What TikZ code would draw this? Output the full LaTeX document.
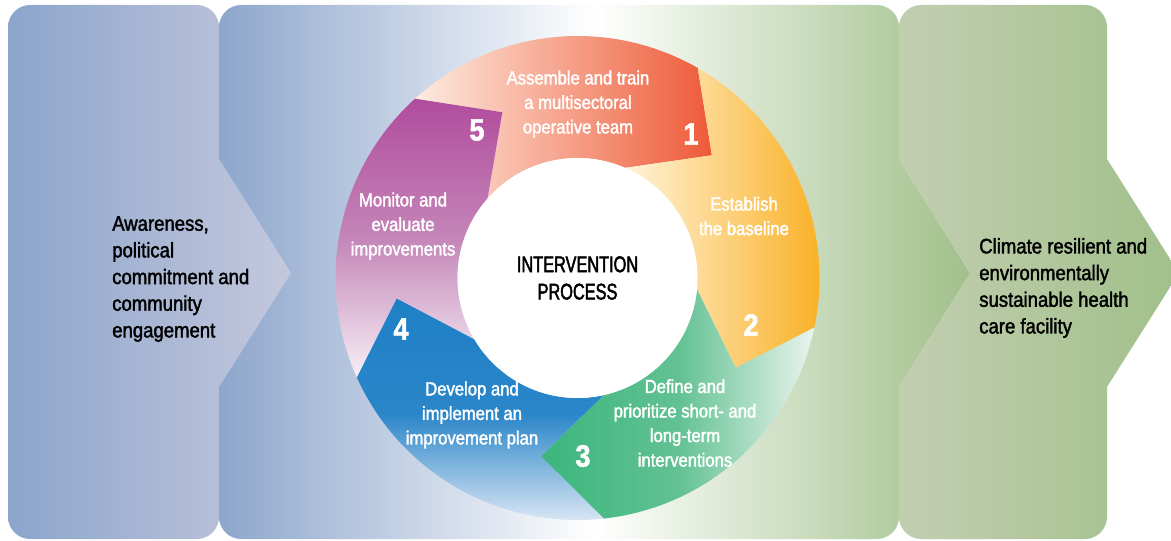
\documentclass[tikz,border=0pt]{standalone}
\usepackage{fontspec}
\setmainfont{Liberation Sans}[FakeStretch=0.88, FakeBold=1.8]
\newfontfamily\condfont{Liberation Sans}[FakeStretch=0.72, FakeBold=2]

\definecolor{leftL}{HTML}{8CA5CB}
\definecolor{leftR}{HTML}{C4C8DD}
\definecolor{midL}{HTML}{8DA6CC}
\definecolor{midR}{HTML}{A0C08A}
\definecolor{rightL}{HTML}{C3CEB1}
\definecolor{rightR}{HTML}{A0C08A}
\definecolor{assembleL}{HTML}{FEEBE0}
\definecolor{assembleR}{HTML}{EE5A38}
\definecolor{baselineL}{HTML}{FFF3DA}
\definecolor{baselineR}{HTML}{F9AC18}
\definecolor{defineL}{HTML}{3BB67C}
\definecolor{defineM}{HTML}{62C193}
\definecolor{defineR}{HTML}{EAF4EE}
\definecolor{developT}{HTML}{1E80C6}
\definecolor{developM}{HTML}{2B86C9}
\definecolor{developB}{HTML}{E8EEF8}
\definecolor{monitorT}{HTML}{B14C9D}
\definecolor{monitorM}{HTML}{C485B8}
\definecolor{monitorB}{HTML}{F6F0F6}

\begin{document}
\begin{tikzpicture}[x=0.75pt, y=-0.75pt]
    \tikzstyle{paneltext} = [anchor=west, align=left, text=black, inner sep=0pt, font=\fontsize{15.8}{20}\selectfont]
    \tikzstyle{steptext} = [align=center, text=white, inner sep=0pt, font=\fontsize{14.2}{18.4}\selectfont]
    \tikzstyle{stepnum} = [text=white, inner sep=0pt, font=\fontsize{23}{23}\selectfont\bfseries]
    \tikzstyle{seg1} = [left color=assembleL, right color=assembleR]
    \tikzstyle{seg2} = [left color=baselineL, right color=baselineR]
    \tikzstyle{seg3} = [left color=defineL, right color=defineR, middle color=defineM]
    \tikzstyle{seg4} = [top color=developT, bottom color=developB, middle color=developM]
    \tikzstyle{seg5} = [top color=monitorT, bottom color=monitorB, middle color=monitorM]

    \clip (0,0) rectangle (1171,541);

    % the three chevron panels
    \shade[left color=leftL, right color=leftR]
      (8,27) .. controls (8,15) and (18,5) .. (30,5) -- (197,5)
      .. controls (209,5) and (219,15) .. (219,27) -- (219,159) -- (291,273) -- (219,387) -- (219,517)
      .. controls (219,529) and (209,539) .. (197,539) -- (30,539)
      .. controls (18,539) and (8,529) .. (8,517) -- cycle;
    \shade[left color=midL, right color=midR, middle color=white]
      (219,27) .. controls (219,15) and (229,5) .. (241,5) -- (877,5)
      .. controls (889,5) and (899,15) .. (899,27) -- (899,159) -- (970,273) -- (899,387) -- (899,517)
      .. controls (899,529) and (889,539) .. (877,539) -- (241,539)
      .. controls (229,539) and (219,529) .. (219,517) -- (219,387) -- (291,273) -- (219,159) -- cycle;
    \shade[left color=rightL, right color=rightR]
      (899,27) .. controls (899,15) and (909,5) .. (921,5) -- (1085,5)
      .. controls (1097,5) and (1107,15) .. (1107,27) -- (1107,159) -- (1179,273) -- (1107,387) -- (1107,517)
      .. controls (1107,529) and (1097,539) .. (1085,539) -- (921,539)
      .. controls (909,539) and (899,529) .. (899,517) -- (899,387) -- (970,273) -- (899,159) -- cycle;

    % the ring of five arrows
    \begin{scope}[shift={(577.5,278)}, yscale=-1]
        \foreach \i/\t in {1/42.4, 2/-29.6, 3/-101.6, 4/-173.6, 5/114.4}
            \shade[seg\i] (\t+89.8:242) arc[start angle=\t+89.8, end angle=\t+17.8, radius=242]
              -- (\t:182) -- (\t+24.2:120) arc[start angle=\t+24.2, end angle=\t+96.2, radius=120]
              -- (\t+72:182) -- cycle;
    \end{scope}

    \node[circle, fill=white, minimum size=180pt, inner sep=0pt, align=center,
          font=\condfont\fontsize{17}{20.5}\selectfont] (core) at (577.5,278) {INTERVENTION\\PROCESS};

    % panel texts
    \node[paneltext] (aware) at (112,279) {Awareness,\\political\\commitment and\\community\\engagement};
    \node[paneltext] (facility) at (979,288) {Climate resilient and\\environmentally\\sustainable health\\care facility};

    % step texts
    \node[steptext] (assemble) at (578,104) {Assemble and train\\a multisectoral\\operative team};
    \node[steptext] (baseline) at (744,216) {Establish\\the baseline};
    \node[steptext] (define) at (685,423) {Define and\\prioritize short- and\\long-term\\interventions};
    \node[steptext] (develop) at (472,415) {Develop and\\implement an\\improvement plan};
    \node[steptext] (monitor) at (403,226) {Monitor and\\evaluate\\improvements};

    \node[stepnum] (n1) at (691,134) {1};
    \node[stepnum] (n2) at (751,325) {2};
    \node[stepnum] (n3) at (583,456) {3};
    \node[stepnum] (n4) at (401,329) {4};
    \node[stepnum] (n5) at (477,130) {5};
\end{tikzpicture}
\end{document}
